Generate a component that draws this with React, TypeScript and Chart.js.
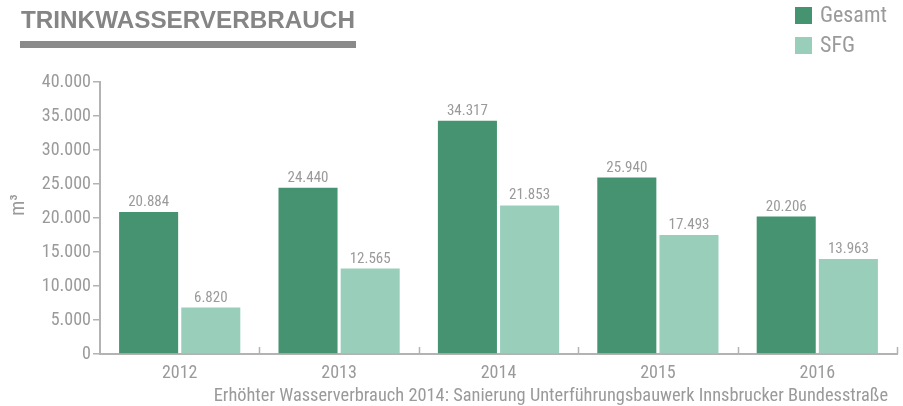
import React, { useEffect, useRef } from "react";
import { Chart, registerables } from "chart.js";

Chart.register(...registerables);

const categories = ["2012", "2013", "2014", "2015", "2016"];
const gesamt = [20884, 24440, 34317, 25940, 20206];
const sfg = [6820, 12565, 21853, 17493, 13963];
const seriesNames = ["Gesamt", "SFG"];
const yTicks = [0, 5000, 10000, 15000, 20000, 25000, 30000, 35000, 40000];
const titleText = "TRINKWASSERVERBRAUCH";
const footnote = "Erhöhter Wasserverbrauch 2014: Sanierung Unterführungsbauwerk Innsbrucker Bundesstraße";
const yTitle = "m³";

const FONT = "'Liberation Sans Narrow', 'Roboto Condensed', Roboto, sans-serif";
const TFONT = "'Liberation Sans', Arial, sans-serif";
const GRAY = "#9a9a9a";
const AXIS = "#b3b3b3";
const C1 = "#459371";
const C2 = "#99cfba";

const fmt = (v: number) => String(Math.round(v)).replace(/\B(?=(\d{3})+(?!\d))/g, ".");

function fitFont(ctx: any, text: string, prefix: string, family: string, width: number, base: number) {
  ctx.font = `${prefix} ${base}px ${family}`;
  const w = ctx.measureText(text).width;
  const size = (base * width) / w;
  ctx.font = `${prefix} ${size.toFixed(2)}px ${family}`;
}

const overlay = {
  id: "overlay",
  afterDraw(chart: any) {
    const ctx = chart.ctx;
    const area = chart.chartArea;
    const x = chart.scales.x;
    ctx.save();
    // title
    ctx.fillStyle = "#858585";
    fitFont(ctx, titleText, "bold", TFONT, 334, 22);
    ctx.textBaseline = "alphabetic";
    ctx.textAlign = "left";
    ctx.fillText(titleText, 21, 28);
    ctx.fillStyle = "#8a8a8a";
    ctx.fillRect(20, 41, 336, 7);
    // legend
    const colors = [C1, C2];
    seriesNames.forEach((n, i) => {
      ctx.fillStyle = colors[i];
      ctx.fillRect(795, 7 + i * 30, 17, 17);
      ctx.fillStyle = GRAY;
      ctx.font = `22px ${FONT}`;
      ctx.textBaseline = "middle";
      ctx.fillText(n, 820, 16 + i * 30);
    });
    // y title
    ctx.save();
    ctx.translate(19, 205);
    ctx.rotate(-Math.PI / 2);
    ctx.textAlign = "center";
    ctx.textBaseline = "middle";
    ctx.font = `20px ${FONT}`;
    ctx.fillStyle = GRAY;
    ctx.fillText(yTitle, 0, 0);
    ctx.restore();
    // x upward ticks at category boundaries
    ctx.strokeStyle = AXIS;
    ctx.lineWidth = 1.5;
    for (let i = 0; i < categories.length; i++) {
      const b = i < categories.length - 1
        ? (x.getPixelForValue(i) + x.getPixelForValue(i + 1)) / 2
        : area.right;
      ctx.beginPath();
      ctx.moveTo(Math.round(b) + 0.5, area.bottom);
      ctx.lineTo(Math.round(b) + 0.5, area.bottom - 7);
      ctx.stroke();
    }
    // data labels
    ctx.fillStyle = GRAY;
    ctx.font = `15px ${FONT}`;
    ctx.textAlign = "center";
    ctx.textBaseline = "alphabetic";
    chart.data.datasets.forEach((ds: any, di: number) => {
      const meta = chart.getDatasetMeta(di);
      meta.data.forEach((el: any, i: number) => {
        ctx.fillText(fmt(ds.data[i]), el.x, el.y - 6);
      });
    });
    // footnote
    fitFont(ctx, footnote, "", FONT, 675, 17);
    ctx.textAlign = "right";
    ctx.textBaseline = "alphabetic";
    ctx.fillText(footnote, 888, 401);
    ctx.restore();
  },
};

export default function App() {
  const ref = useRef<HTMLCanvasElement>(null);
  useEffect(() => {
    document.body.style.margin = "0";
    const chart = new Chart(ref.current!, {
      type: "bar",
      data: {
        labels: categories,
        datasets: [
          { label: seriesNames[0], data: gesamt, backgroundColor: C1, barPercentage: 0.95, categoryPercentage: 0.78 },
          { label: seriesNames[1], data: sfg, backgroundColor: C2, barPercentage: 0.95, categoryPercentage: 0.78 },
        ],
      },
      options: {
        animation: false,
        responsive: false,
        maintainAspectRatio: false,
        layout: { padding: { top: 82, right: 6, left: 0, bottom: 0 } },
        plugins: { legend: { display: false }, tooltip: { enabled: false }, title: { display: false } },
        scales: {
          x: {
            grid: { display: false, drawTicks: false },
            border: { color: AXIS, width: 2 },
            ticks: { color: GRAY, font: { family: FONT, size: 18 }, padding: 9 },
            afterFit: (s: any) => { s.height = 52; },
          },
          y: {
            min: 0,
            max: 40000,
            afterBuildTicks: (s: any) => { s.ticks = yTicks.map((v) => ({ value: v })); },
            grid: { drawOnChartArea: false, color: AXIS, tickLength: 7, lineWidth: 1.5 },
            border: { color: AXIS, width: 2 },
            ticks: { color: GRAY, font: { family: FONT, size: 18 }, padding: 2, callback: (v: any) => fmt(Number(v)) },
            afterFit: (s: any) => { s.width = 100; },
          },
        },
      },
      plugins: [overlay],
    });
    return () => chart.destroy();
  }, []);
  return (
    <div style={{ width: 903, height: 406 }}>
      <canvas ref={ref} width={903} height={406} style={{ display: "block" }} />
    </div>
  );
}
